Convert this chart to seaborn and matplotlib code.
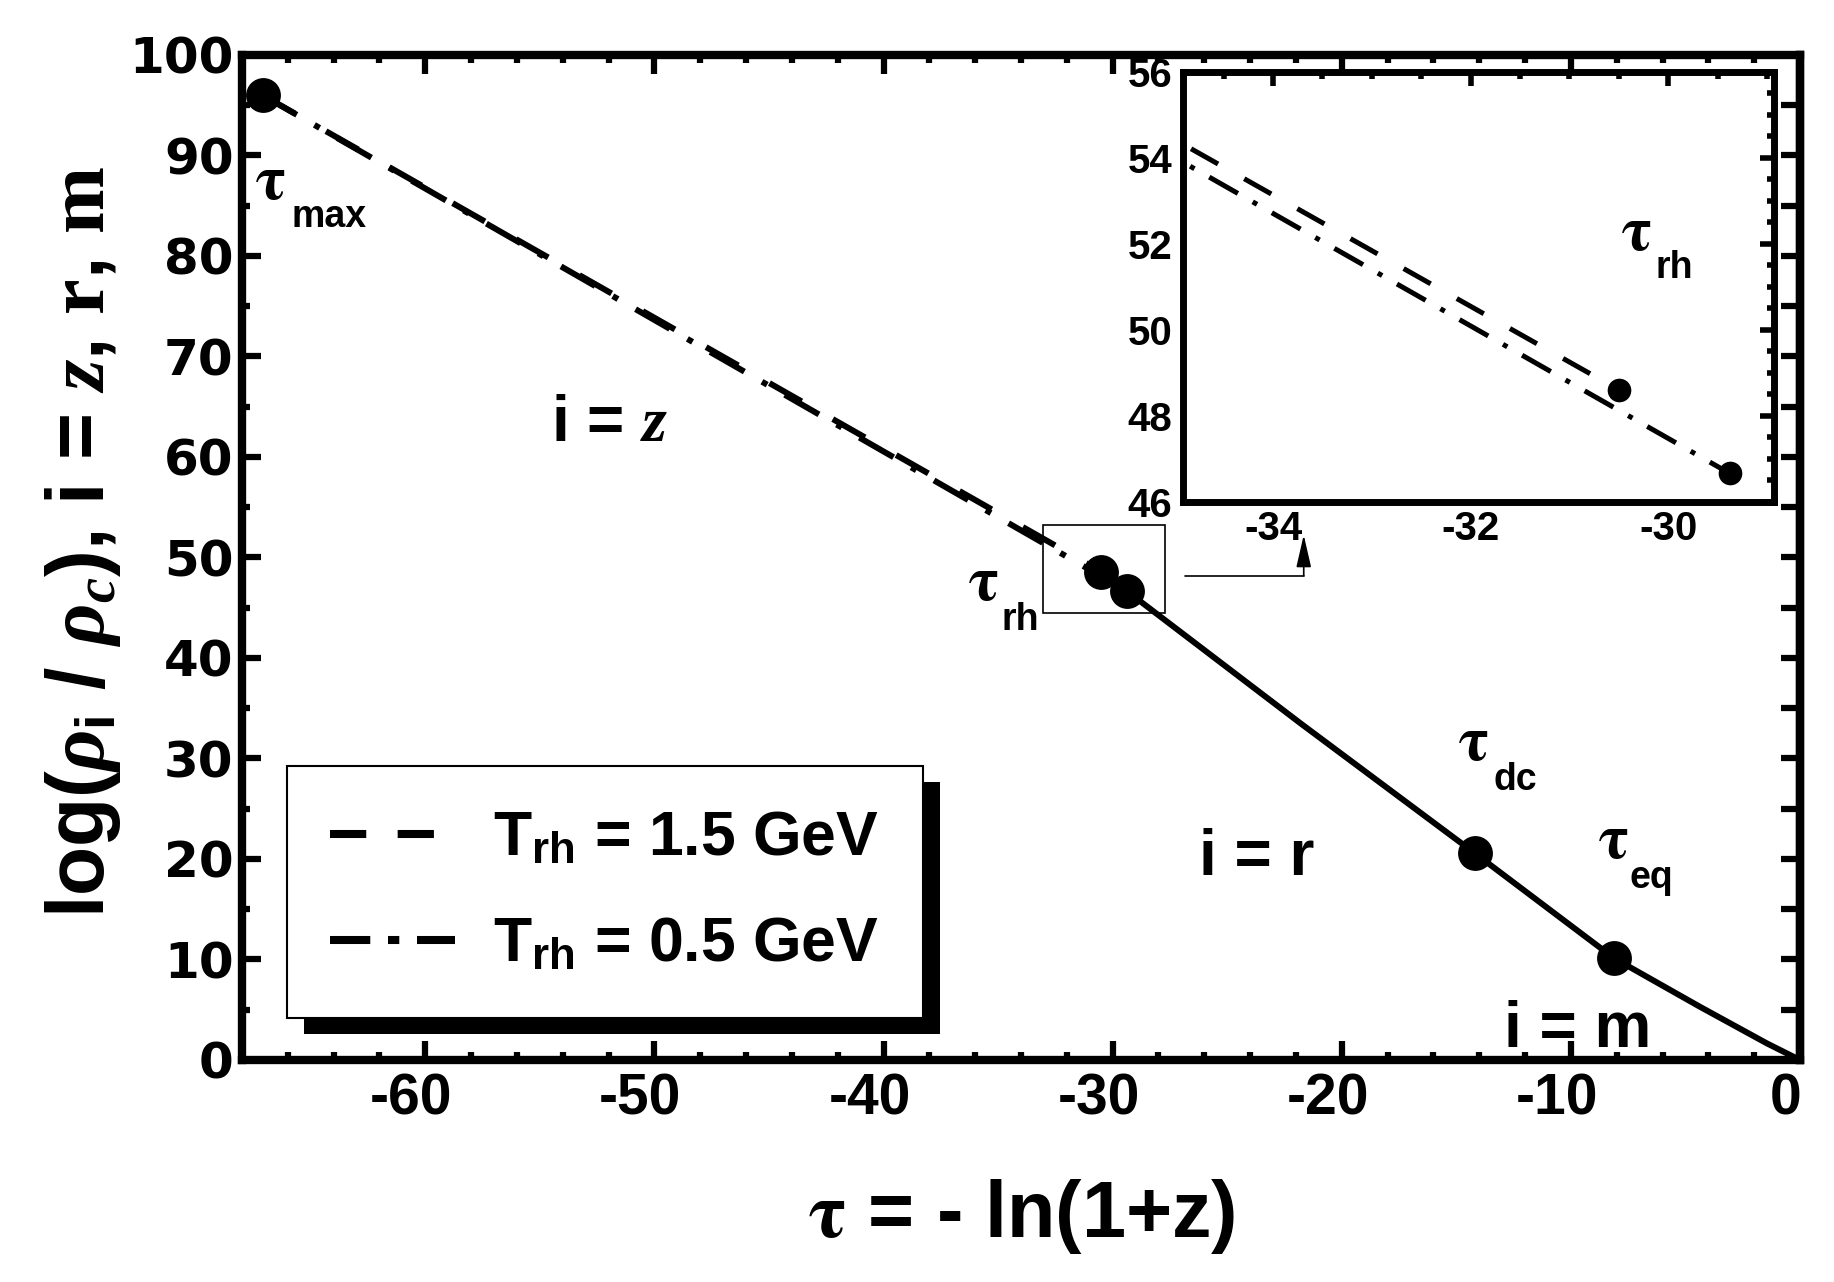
import numpy as np
import matplotlib
matplotlib.use("Agg")
import matplotlib.pyplot as plt
import matplotlib.transforms as mtransforms
from matplotlib.ticker import MultipleLocator
from matplotlib.patches import Rectangle
import seaborn as sns

# ---------------- data ----------------
tau_15 = [-67.1, -30.5]            # T_rh = 1.5 GeV (dashed), tau_max -> tau_rh
rho_15 = [96.0, 48.6]
tau_05 = [-67.1, -29.38]           # T_rh = 0.5 GeV (dash-dot), tau_max -> tau_rh
rho_05 = [96.0, 46.66]
tau_late = [-29.38, -21.8, -14.19, -8.11, -4.37, -1.45, 0.0]   # solid, radiation + matter
rho_late = [46.66, 33.5, 20.57, 10.12, 5.3, 1.66, 0.0]
tau_marks = [-67.1, -30.5, -29.38, -14.19, -8.11]   # tau_max, tau_rh (x2), tau_dc, tau_eq
rho_marks = [96.0, 48.6, 46.66, 20.57, 10.12]
inset_tau_marks = [-30.5, -29.38]
inset_rho_marks = [48.6, 46.66]
legend_labels = [r"T$_{\rm rh}$ = 1.5 GeV", r"T$_{\rm rh}$ = 0.5 GeV"]
main_xticks = [-60, -50, -40, -30, -20, -10, 0]
main_yticks = list(range(0, 101, 10))
inset_xticks = [-34, -32, -30]
inset_yticks = [46, 48, 50, 52, 54, 56]

# ---------------- style ----------------
sns.set_theme(style="white")
plt.rcParams.update({
    "font.family": ["Liberation Sans", "DejaVu Sans"],
    "font.weight": "bold",
    "axes.unicode_minus": False,
    "mathtext.fontset": "custom",
    "mathtext.rm": "Liberation Sans:bold",
    "mathtext.bf": "Liberation Sans:bold",
    "mathtext.it": "Liberation Serif:italic",
    "mathtext.cal": "STIXGeneral:bold",
    "mathtext.sf": "Liberation Serif:bold",
    "axes.edgecolor": "black",
    "text.color": "black",
    "axes.labelcolor": "black",
    "xtick.color": "black",
    "ytick.color": "black",
})

LW_MAIN = 4.3
LW_IN = 3.6
ls_15 = (0, (6.2, 6.0))
ls_05 = (0, (6.6, 3.4, 1.0, 3.4))
TAU_FONT = "STIXGeneral"

fig = plt.figure(figsize=(18.34, 12.82), dpi=100)
fig.patch.set_facecolor("white")
ax = fig.add_axes([0.13195, 0.17317, 0.84951, 0.78393])
ax.set_facecolor("white")

# ---------------- main lines ----------------
sns.lineplot(x=tau_15, y=rho_15, ax=ax, color="black", lw=LW_MAIN,
             linestyle=ls_15, sort=False, legend=False, label=legend_labels[0])
sns.lineplot(x=tau_05, y=rho_05, ax=ax, color="black", lw=LW_MAIN,
             linestyle=ls_05, sort=False, legend=False, label=legend_labels[1])
sns.lineplot(x=tau_late, y=rho_late, ax=ax, color="black", lw=LW_MAIN,
             sort=False, legend=False)
sns.scatterplot(x=tau_marks, y=rho_marks, ax=ax, color="black", s=630,
                linewidth=0, zorder=6, legend=False, clip_on=False)

ax.set_xlim(-68, 0)
ax.set_ylim(0, 100)

# ticks
ax.set_xticks(main_xticks, labels=[str(v) for v in main_xticks],
              fontsize=41, fontweight="bold", fontfamily="Liberation Sans", color="black")
ax.set_yticks(main_yticks, labels=[str(v) for v in main_yticks],
              fontsize=36, fontweight="bold", fontfamily="DejaVu Sans", color="black")
ax.xaxis.set_minor_locator(MultipleLocator(2))
ax.yaxis.set_minor_locator(MultipleLocator(5))
ax.tick_params(which="both", direction="in", top=True, right=False,
               bottom=True, left=True, color="black", width=4.5, labelcolor="black")
ax.tick_params(which="major", length=14)
ax.tick_params(which="minor", length=6)
ax.tick_params(axis="x", pad=9)
ax.tick_params(axis="y", pad=6)
for sp in ax.spines.values():
    sp.set_linewidth(6)
    sp.set_color("black")
# the x tick labels sit slightly left of their ticks in the original
shift = mtransforms.ScaledTranslation(-14 / 100, 0, fig.dpi_scale_trans)
for lab in ax.get_xticklabels():
    lab.set_transform(lab.get_transform() + shift)

sec = ax.secondary_yaxis("right")
sec.set_yticks(np.arange(0, 101, 5))
sec.tick_params(direction="in", length=14, width=4.5, labelright=False, color="black")
sec.spines["right"].set_linewidth(6)

# axis labels
ax.set_xlabel(r"$\mathcal{\tau}$ = - ln(1+z)", fontsize=57, fontweight="bold", color="black")
ax.xaxis.set_label_coords(0.5, -0.116)
ax.set_ylabel(r"log($\rho_{\rm i}$ / $\rho_{c}$), i = $z$, $\mathsf{r}$, $\mathsf{m}$",
              fontsize=58, fontweight="bold", color="black")
ax.yaxis.set_label_coords(-0.0764, 0.515)

# ---------------- annotations ----------------
def tau_text(axis, x, y, sx, sy, sub, fs_tau=46, fs_sub=27):
    axis.text(x, y, "\u03c4", fontfamily=TAU_FONT, fontweight="bold",
              fontsize=fs_tau, ha="center", va="baseline", color="black")
    axis.text(sx, sy, sub, fontfamily="Liberation Sans", fontweight="bold",
              fontsize=fs_sub, ha="left", va="baseline", color="black")

tau_text(ax, -66.75, 85.7, -65.85, 82.9, "max")
tau_text(ax, -35.63, 45.8, -34.86, 42.8, "rh")
tau_text(ax, -14.27, 29.85, -13.39, 26.87, "dc")
tau_text(ax, -8.15, 20.1, -7.42, 17.08, "eq")

ax.text(-51.97, 61.6, r"i = $z$", fontsize=46, fontweight="bold", ha="center", va="baseline")
ax.text(-23.72, 18.4, "i = r", fontsize=46, fontweight="bold", ha="center", va="baseline")
ax.text(-9.72, 1.33, "i = m", fontsize=46, fontweight="bold", ha="center", va="baseline")

# zoom box and arrow
ax.add_patch(Rectangle((-33.06, 44.5), 5.36, 8.7, fill=False, lw=1.2, ec="black", zorder=3))
ax.plot([-26.86, -21.66], [48.19, 48.19], color="black", lw=1.2)
ax.annotate("", xy=(-21.66, 52.24), xytext=(-21.66, 48.19),
            arrowprops=dict(arrowstyle="-|>,head_length=1.0,head_width=0.23",
                            mutation_scale=20, lw=1.2, color="black",
                            shrinkA=0, shrinkB=0))

# ---------------- legend with solid shadow ----------------
handles = ax.lines[:2]
leg = ax.legend(handles, legend_labels, loc="upper left",
                bbox_to_anchor=(0.0286, 0.2925), borderaxespad=0,
                frameon=True, fancybox=False, edgecolor="black", framealpha=1,
                prop={"family": "Liberation Sans", "weight": "bold", "size": 45},
                handlelength=2.0, handletextpad=0.6, borderpad=0.7,
                labelspacing=0.75)
leg.get_frame().set_linewidth(1.5)
leg.set_zorder(8)
for txt in leg.get_texts():
    txt.set_color("black")
lh = leg.legend_handles
lh[0].set_linewidth(5.8)
lh[0].set_linestyle((0, (4.5, 3.9)))
lh[1].set_linewidth(5.8)
lh[1].set_linestyle((0, (5.0, 2.2, 1.4, 2.2)))

# ---------------- inset ----------------
axin = fig.add_axes([0.64514, 0.60866, 0.32214, 0.33541])
axin.set_facecolor("white")
sns.lineplot(x=tau_15, y=rho_15, ax=axin, color="black", lw=LW_IN,
             linestyle=ls_15, sort=False, legend=False)
sns.lineplot(x=tau_05, y=rho_05, ax=axin, color="black", lw=LW_IN,
             linestyle=ls_05, sort=False, legend=False)
sns.scatterplot(x=inset_tau_marks, y=inset_rho_marks, ax=axin, color="black",
                s=290, linewidth=0, zorder=6, legend=False)
axin.set_xlim(-34.91, -28.93)
axin.set_ylim(46, 56)
axin.set_xticks(inset_xticks, labels=[str(v) for v in inset_xticks],
                fontsize=29, fontweight="bold", fontfamily="Liberation Sans", color="black")
axin.set_yticks(inset_yticks, labels=[str(v) for v in inset_yticks],
                fontsize=29, fontweight="bold", fontfamily="Liberation Sans", color="black")
axin.xaxis.set_minor_locator(MultipleLocator(0.5))
axin.yaxis.set_minor_locator(MultipleLocator(0.5))
axin.tick_params(which="both", direction="in", top=True, right=True,
                 color="black", width=4, labelcolor="black")
axin.tick_params(which="major", length=10)
axin.tick_params(which="minor", length=5)
axin.tick_params(axis="x", pad=6)
axin.tick_params(axis="y", pad=8)
axin.set_xlabel("")
axin.set_ylabel("")
for sp in axin.spines.values():
    sp.set_linewidth(5)
    sp.set_color("black")
tau_text(axin, -30.32, 51.85, -30.13, 51.2, "rh")

# shadow behind legend (offset solid black box)
fig.canvas.draw()
bb = leg.get_window_extent()
shadow = Rectangle((bb.x0 + 17, bb.y0 - 16), bb.width, bb.height,
                   transform=mtransforms.IdentityTransform(),
                   facecolor="black", edgecolor="none", zorder=7.9, clip_on=False)
ax.add_patch(shadow)

fig.savefig("out.png", dpi=100, facecolor="white")
